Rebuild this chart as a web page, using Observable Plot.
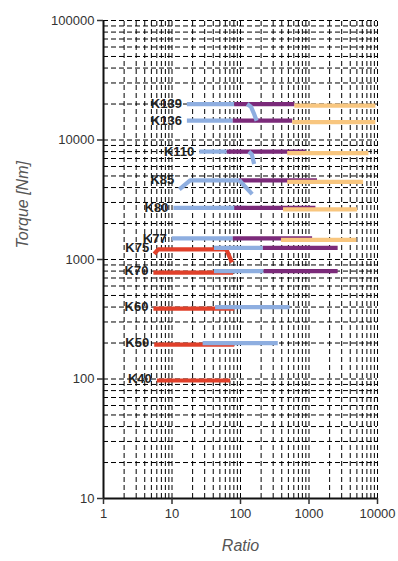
<!DOCTYPE html>
<html><head><meta charset="utf-8">
<script src="https://cdn.jsdelivr.net/npm/d3@7"></script>
<script src="https://cdn.jsdelivr.net/npm/@observablehq/plot@0.6"></script>
<style>body{margin:0;background:#fff} #chart svg{display:block}</style>
</head><body><div id="chart"></div>
<script>
// Gearbox models and rated torque (Nm)
const models  = ["K139","K136","K110","K85","K80","K77","K75","K70","K60","K50","K40"];
const torques = [20000, 14500, 8000, 4600, 2700, 1500, 1250, 800, 400, 200, 100];

// Runs: [model, [[ratio, torque], ...]]
const redRuns = [
  ["K75", [[5.5,1145],[6.3,1250],[62,1250],[75,975]]],
  ["K70", [[5.35,800],[78,800]]],
  ["K60", [[5.35,400],[81,400]]],
  ["K50", [[5.5,200],[81,200]]],
  ["K40", [[6,100],[71,100]]]
];
const blueRuns = [
  ["K139", [[16.5,20000],[81,20000]]],
  ["K136", [[16.5,14500],[77,14500]]],
  ["K110", [[25,8000],[63,8000]]],
  ["K85",  [[12.8,3870],[18.4,4600],[96,4600]]],
  ["K80",  [[10.5,2700],[123,2700]]],
  ["K77",  [[9.9,1500],[77,1500]]],
  ["K75",  [[41,1250],[212,1250]]],
  ["K70",  [[41,800],[217,800]]],
  ["K60",  [[42.5,400],[520,400]]],
  ["K50",  [[28,200],[350,200]]]
];
const blueSpurs = [
  ["K139", [[125,20000],[142,19000],[156,16800],[172,14500]]],
  ["K110", [[132,8000],[146,7600],[158,6300]]],
  ["K85",  [[96,4600],[148,3520]]]
];
const purpleRuns = [
  ["K139", [[81,20000],[610,20000]]],
  ["K136", [[77,14500],[570,14500]]],
  ["K110", [[63,8000],[880,8000]]],
  ["K85",  [[96,4600],[1310,4600]]],
  ["K80",  [[81,2700],[1240,2700]]],
  ["K77",  [[77,1500],[1110,1500]]],
  ["K75",  [[212,1250],[2620,1250]]],
  ["K70",  [[217,800],[2620,800]]]
];
const orangeRuns = [
  ["K139", [[610,20000],[9300,20000]]],
  ["K136", [[570,14500],[9300,14500]]],
  ["K110", [[480,8000],[7360,8000]]],
  ["K85",  [[480,4600],[6160,4600]]],
  ["K80",  [[417,2700],[5040,2700]]],
  ["K77",  [[390,1500],[4920,1500]]]
];

const xTicks = [1, 10, 100, 1000, 10000];
const yTicks = [10, 100, 1000, 10000, 100000];

// helpers
const flat = runs => runs.flatMap(([m, pts], i) => pts.map(([x, y]) => ({id: m + "-" + i, x, y})));
const grid = decades => decades.flatMap(d => d3.range(2, 11).map(k => d * k));
const xGrid = grid([1, 10, 100, 1000]);
const yGrid = grid([10, 100, 1000, 10000]);

const allRuns = [...redRuns, ...blueRuns, ...purpleRuns, ...orangeRuns];
const labels = models.map((m, i) => {
  const xs = allRuns.filter(r => r[0] === m).flatMap(r => r[1].map(p => p[0]));
  return {m, x: d3.min(xs), y: torques[i]};
});

const lineOpts = {x: "x", y: "y", z: "id", strokeWidth: 4.2, strokeLinejoin: "round", strokeLinecap: "butt"};

const chart = Plot.plot({
  width: 398, height: 561,
  marginLeft: 103, marginRight: 21, marginTop: 20, marginBottom: 63,
  style: {fontFamily: "'Liberation Sans', Arial, sans-serif", fontSize: "13px", color: "#333", background: "#fff"},
  x: {type: "log", domain: [1, 10000]},
  y: {type: "log", domain: [10, 100000]},
  marks: [
    Plot.ruleX(xGrid, {y1: 10, y2: 100000, stroke: "#000", strokeWidth: 1, strokeDasharray: "5,3"}),
    Plot.ruleY(yGrid, {x1: 1, x2: 10000, stroke: "#000", strokeWidth: 1, strokeDasharray: "5,3"}),
    Plot.line(flat(redRuns), {...lineOpts, stroke: "#e0402a", dy: 1.5}),
    Plot.line(flat(blueRuns), {...lineOpts, stroke: "#8eaee0"}),
    Plot.line(flat(purpleRuns), {...lineOpts, stroke: "#7b2a7a"}),
    Plot.line(flat(orangeRuns), {...lineOpts, stroke: "#f8c67f", dy: 1.5}),
    Plot.line(flat(blueSpurs), {...lineOpts, stroke: "#8eaee0"}),
    Plot.text(labels, {x: "x", y: "y", text: "m", dx: -5, textAnchor: "end", fontWeight: "bold", fontSize: 13, fill: "#222"}),
    Plot.ruleX([1], {stroke: "#111", strokeWidth: 2}),
    Plot.ruleY([10], {stroke: "#111", strokeWidth: 2}),
    Plot.axisX({ticks: xTicks, tickFormat: d => String(d), tickSize: 6, tickPadding: 4, strokeWidth: 1.5, label: null}),
    Plot.axisY({ticks: yTicks, tickFormat: d => String(d), tickSize: 6, tickPadding: 3, strokeWidth: 1.5, label: null}),
    Plot.text(["Ratio"], {frameAnchor: "bottom", dy: 52, fontSize: 16, fontStyle: "italic", fill: "#555"}),
    Plot.text(["Torque [Nm]"], {frameAnchor: "left", dx: -81, dy: -11, rotate: -90, fontSize: 16, fontStyle: "italic", fill: "#555"})
  ]
});
document.getElementById("chart").append(chart);
</script>
</body></html>
